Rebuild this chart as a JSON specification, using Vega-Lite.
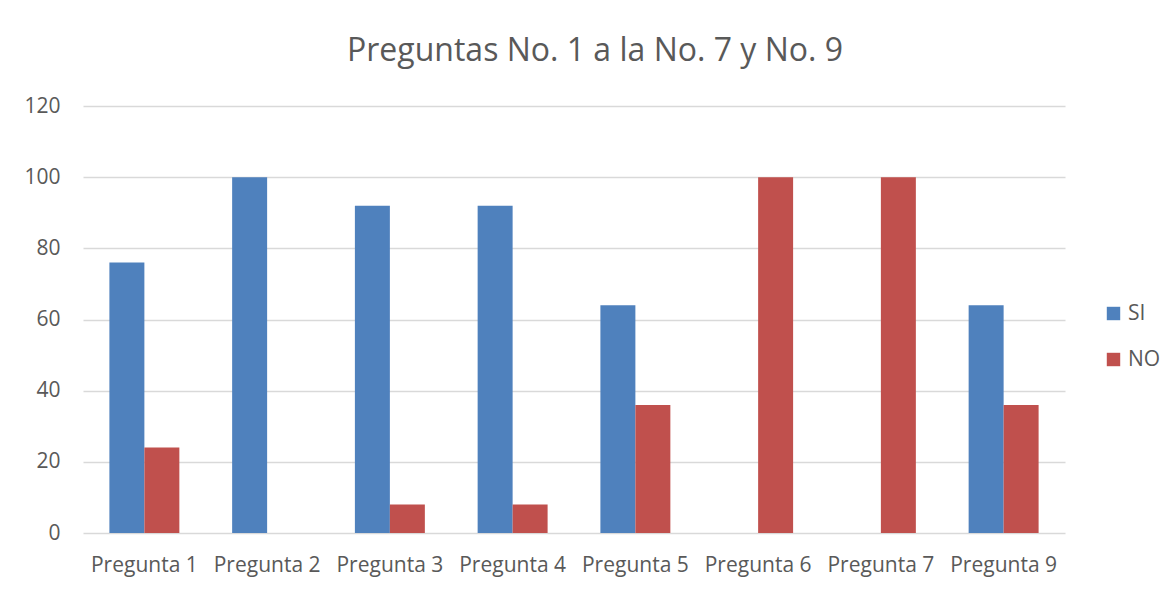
{
  "$schema": "https://vega.github.io/schema/vega-lite/v6.json",
  "autosize": "none",
  "width": 982,
  "height": 427,
  "padding": {"left": 83, "top": 106, "right": 110, "bottom": 57},
  "background": "white",
  "title": {
    "text": "Preguntas No. 1 a la No. 7 y No. 9",
    "font": "Open Sans",
    "fontSize": 32,
    "fontWeight": "normal",
    "color": "#595959",
    "anchor": "middle",
    "baseline": "alphabetic",
    "dx": 21,
    "offset": 2
  },
  "data": {
    "values": [
      {"pregunta": "Pregunta 1", "serie": "SI", "valor": 76},
      {"pregunta": "Pregunta 1", "serie": "NO", "valor": 24},
      {"pregunta": "Pregunta 2", "serie": "SI", "valor": 100},
      {"pregunta": "Pregunta 2", "serie": "NO", "valor": 0},
      {"pregunta": "Pregunta 3", "serie": "SI", "valor": 92},
      {"pregunta": "Pregunta 3", "serie": "NO", "valor": 8},
      {"pregunta": "Pregunta 4", "serie": "SI", "valor": 92},
      {"pregunta": "Pregunta 4", "serie": "NO", "valor": 8},
      {"pregunta": "Pregunta 5", "serie": "SI", "valor": 64},
      {"pregunta": "Pregunta 5", "serie": "NO", "valor": 36},
      {"pregunta": "Pregunta 6", "serie": "SI", "valor": 0},
      {"pregunta": "Pregunta 6", "serie": "NO", "valor": 100},
      {"pregunta": "Pregunta 7", "serie": "SI", "valor": 0},
      {"pregunta": "Pregunta 7", "serie": "NO", "valor": 100},
      {"pregunta": "Pregunta 9", "serie": "SI", "valor": 64},
      {"pregunta": "Pregunta 9", "serie": "NO", "valor": 36}
    ]
  },
  "mark": {"type": "bar"},
  "encoding": {
    "x": {
      "field": "pregunta",
      "type": "nominal",
      "sort": null,
      "scale": {"paddingInner": 0.43, "paddingOuter": 0.215},
      "axis": {
        "title": null,
        "labelAngle": 0,
        "labelFont": "Open Sans",
        "labelFontSize": 21,
        "labelColor": "#595959",
        "labelPadding": 21,
        "ticks": false,
        "domain": false,
        "grid": false
      }
    },
    "xOffset": {
      "field": "serie",
      "type": "nominal",
      "sort": ["SI", "NO"],
      "scale": {"paddingInner": 0, "paddingOuter": 0}
    },
    "y": {
      "field": "valor",
      "type": "quantitative",
      "scale": {"domain": [0, 120], "nice": false},
      "axis": {
        "title": null,
        "values": [0, 20, 40, 60, 80, 100, 120],
        "labelFont": "Open Sans",
        "labelFontSize": 21,
        "labelColor": "#595959",
        "labelPadding": 23,
        "ticks": false,
        "domain": false,
        "grid": true,
        "gridColor": "#D9D9D9",
        "gridWidth": 1.3
      }
    },
    "color": {
      "field": "serie",
      "type": "nominal",
      "sort": ["SI", "NO"],
      "scale": {"domain": ["SI", "NO"], "range": ["#4F81BD", "#C0504D"]},
      "legend": {
        "title": null,
        "orient": "none",
        "legendX": 1020,
        "legendY": 197,
        "symbolType": "square",
        "symbolSize": 180,
        "symbolStrokeWidth": 0,
        "rowPadding": 24,
        "labelFont": "Open Sans",
        "labelFontSize": 21,
        "labelColor": "#595959",
        "labelOffset": 4
      }
    }
  },
  "config": {
    "view": {"stroke": null}
  }
}
